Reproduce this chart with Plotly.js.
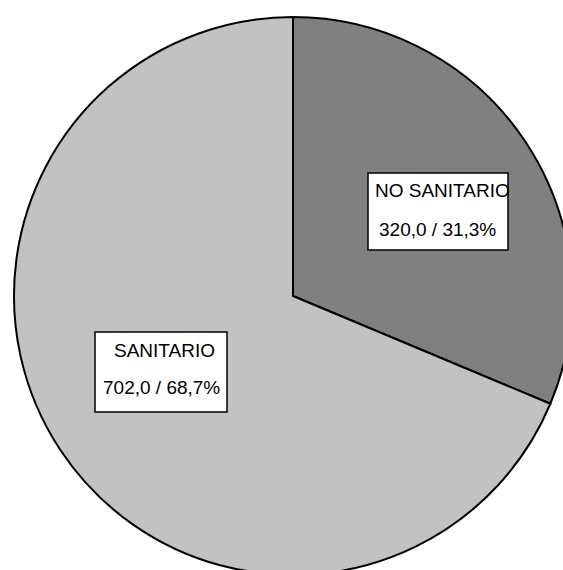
<!DOCTYPE html>
<html>
<head>
<meta charset="utf-8">
<script src="https://cdn.plot.ly/plotly-3.0.1.min.js"></script>
<style>
  html, body { margin: 0; padding: 0; background: #ffffff; overflow: hidden; }
  #chart { width: 600px; height: 600px; }
</style>
</head>
<body>
<div id="chart"></div>
<script>
// Categories and values of the pie
const categories = ['NO SANITARIO', 'SANITARIO'];
const values = [320.0, 702.0];
const sliceColors = ['#808080', '#c2c2c2'];

const W = 600, H = 600;
const total = values.reduce((a, b) => a + b, 0);

// Spanish-style number formatting (decimal comma)
const fmt = (v, d) => v.toFixed(d).replace('.', ',');

const labelTexts = values.map((v, i) => [categories[i], fmt(v, 1) + ' / ' + fmt(100 * v / total, 1) + '%']);

// Label boxes in pixels: [x0, y0, x1, y1], text centres per line
const boxes = [
  { rect: [368, 173, 508, 250], lines: [[442, 190], [437.5, 230]] },
  { rect: [95, 332, 227, 412], lines: [[164, 350], [161, 388]] }
];

const px = x => x / W;
const py = y => 1 - y / H;

const shapes = boxes.map(b => ({
  type: 'rect', xref: 'paper', yref: 'paper',
  x0: px(b.rect[0]), x1: px(b.rect[2]), y0: py(b.rect[3]), y1: py(b.rect[1]),
  fillcolor: '#ffffff', line: { color: '#000000', width: 1.5 }, layer: 'above'
}));

const annotations = [];
boxes.forEach((b, i) => {
  b.lines.forEach((p, j) => {
    annotations.push({
      xref: 'paper', yref: 'paper', x: px(p[0]), y: py(p[1]),
      xanchor: 'center', yanchor: 'middle', showarrow: false,
      text: labelTexts[i][j],
      font: { family: 'Liberation Sans, Arial, sans-serif', size: 19, color: '#000000' }
    });
  });
});

const trace = {
  type: 'pie',
  labels: categories,
  values: values,
  sort: false,
  direction: 'clockwise',
  rotation: 0,
  textinfo: 'none',
  hoverinfo: 'label+value+percent',
  marker: { colors: sliceColors, line: { color: '#000000', width: 2 } },
  domain: { x: [14 / W, 572 / W], y: [1 - 575 / H, 1 - 17 / H] },
  showlegend: false
};

Plotly.newPlot('chart', [trace], {
  width: W, height: H,
  margin: { l: 0, r: 0, t: 0, b: 0, pad: 0 },
  paper_bgcolor: '#ffffff',
  plot_bgcolor: '#ffffff',
  showlegend: false,
  shapes: shapes,
  annotations: annotations
}, { displayModeBar: false, staticPlot: true });
</script>
</body>
</html>
